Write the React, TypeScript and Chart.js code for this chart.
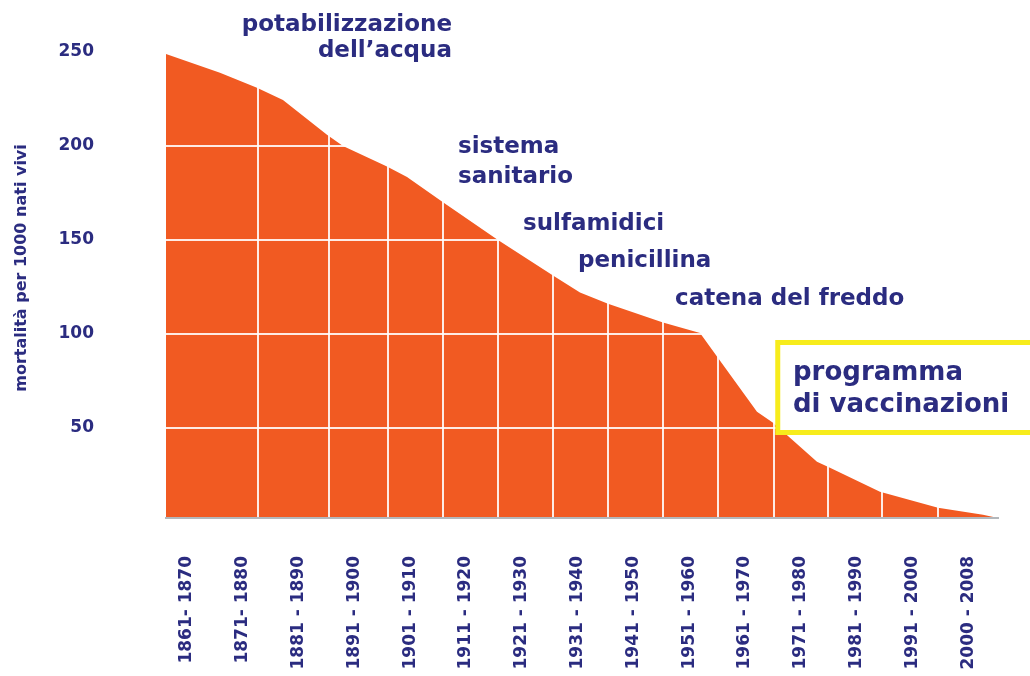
import React, { useEffect, useRef } from "react";
import { Chart, registerables } from "chart.js";

Chart.register(...registerables);

// Decade labels on the category axis
const xLabels = [
  "1861- 1870", "1871- 1880", "1881 - 1890", "1891 - 1900", "1901 - 1910",
  "1911 - 1920", "1921 - 1930", "1931 - 1940", "1941 - 1950", "1951 - 1960",
  "1961 - 1970", "1971 - 1980", "1981 - 1990", "1991 - 2000", "2000 - 2008",
];

// Curve vertices: position along the decade axis (decade index) and mortality per 1000 live births
const curveX = [
  -0.376, 0.591, 1.254, 1.72, 2.509, 2.796, 3.584, 3.943, 4.588, 5.573, 6.559, 7.043, 7.545,
  8.53, 9.194, 9.498, 10.215, 10.502, 10.806, 11.29, 11.523, 12.419, 13.459, 14.265, 14.534,
];
const mortality = [
  249, 239, 231, 224.5, 206, 200, 189, 183.5, 170, 150, 131, 122, 116,
  106, 100.5, 88, 58.5, 52.7, 44.7, 32, 28.7, 16, 7.4, 3.7, 2,
];

// Vertical grid positions (decade index) and y ticks
const gridX = [1.272, 2.545, 3.602, 4.588, 5.573, 6.559, 7.545, 8.53, 9.516, 10.52, 11.487, 12.455, 13.459];
const yTicks = [50, 100, 150, 200, 250];

const X_MIN = -0.376;
const X_MAX = 14.534;
const Y_MIN = 2;
const Y_MAX = 250;

const NAVY = "#2b2c80";
const ORANGE = "#f15a22";
const GRID = "rgba(255,255,255,0.88)";
const FONT = "'DejaVu Sans', Verdana, sans-serif";

const yTitle = "mortalità per 1000 nati vivi";

const notes = [
  { lines: ["potabilizzazione", "dell’acqua"], x: 4.749, y: 261.2, align: "right", size: 23, gap: 26 },
  { lines: ["sistema", "sanitario"], x: 4.857, y: 196.3, align: "left", size: 23, gap: 30 },
  { lines: ["sulfamidici"], x: 6.022, y: 155.3, align: "left", size: 23, gap: 0 },
  { lines: ["penicillina"], x: 7.007, y: 135.6, align: "left", size: 23, gap: 0 },
  { lines: ["catena del freddo"], x: 8.746, y: 115.4, align: "left", size: 23, gap: 0 },
  { lines: ["programma", "di vaccinazioni"], x: 10.86, y: 75.4, align: "left", size: 26, gap: 32 },
];

const annotationPlugin = {
  id: "annotations",
  afterDraw(chart: any) {
    const ctx = chart.ctx;
    const xs = chart.scales.x;
    const ys = chart.scales.y;
    ctx.save();
    // yellow highlight box (white filled) behind the vaccination note
    const bx = xs.getPixelForValue(10.587);
    const by1 = ys.getPixelForValue(95.4);
    const by2 = ys.getPixelForValue(47.5);
    ctx.fillStyle = "#ffffff";
    ctx.fillRect(bx, by1, chart.width - bx + 20, by2 - by1);
    ctx.strokeStyle = "#f7ec1c";
    ctx.lineWidth = 5;
    ctx.strokeRect(bx, by1, chart.width - bx + 20, by2 - by1);

    ctx.fillStyle = NAVY;
    ctx.textBaseline = "alphabetic";
    for (const n of notes) {
      ctx.font = `bold ${n.size}px ${FONT}`;
      ctx.textAlign = n.align;
      const px = xs.getPixelForValue(n.x);
      const py = ys.getPixelForValue(n.y);
      n.lines.forEach((t, i) => ctx.fillText(t, px, py + i * n.gap));
    }

    // y axis title
    ctx.font = `bold 16px ${FONT}`;
    ctx.textAlign = "center";
    ctx.translate(26, 268);
    ctx.rotate(-Math.PI / 2);
    ctx.fillText(yTitle, 0, 0);
    ctx.restore();
  },
};

export default function App() {
  const canvasRef = useRef<HTMLCanvasElement | null>(null);

  useEffect(() => {
    if (!canvasRef.current) return;
    const chart = new Chart(canvasRef.current, {
      type: "line",
      data: {
        datasets: [
          {
            data: curveX.map((x, i) => ({ x, y: mortality[i] })),
            backgroundColor: ORANGE,
            borderWidth: 0,
            borderColor: ORANGE,
            pointRadius: 0,
            fill: "start",
            tension: 0,
            xAxisID: "x",
            yAxisID: "y",
          },
        ],
      },
      options: {
        animation: false,
        responsive: true,
        maintainAspectRatio: false,
        layout: { padding: { top: 52, right: 32, left: 0, bottom: 0 } },
        plugins: { legend: { display: false }, tooltip: { enabled: false } },
        scales: {
          x: {
            type: "linear",
            position: "bottom",
            min: X_MIN,
            max: X_MAX,
            afterBuildTicks: (axis: any) => {
              axis.ticks = gridX.map((v) => ({ value: v }));
            },
            ticks: { display: false },
            grid: { color: GRID, lineWidth: 2, drawTicks: false, z: 1 },
            border: { display: true, color: "#b3b7bb", width: 2, z: 2 },
            afterFit: (axis: any) => {
              axis.height = 0;
            },
          },
          xl: {
            type: "linear",
            position: "bottom",
            min: X_MIN,
            max: X_MAX,
            afterBuildTicks: (axis: any) => {
              axis.ticks = xLabels.map((_, i) => ({ value: i }));
            },
            ticks: {
              autoSkip: false,
              minRotation: 90,
              maxRotation: 90,
              padding: 38,
              color: NAVY,
              font: { family: FONT, size: 17, weight: "bold" },
              callback: (_v: any, i: number) => xLabels[i],
            },
            grid: { display: false, drawTicks: false },
            border: { display: false },
            afterFit: (axis: any) => {
              axis.height = 158;
              axis.paddingLeft = 0;
              axis.paddingRight = 0;
            },
          },
          y: {
            type: "linear",
            min: Y_MIN,
            max: Y_MAX,
            afterBuildTicks: (axis: any) => {
              axis.ticks = yTicks.map((v) => ({ value: v }));
            },
            ticks: {
              padding: 72,
              color: NAVY,
              font: { family: FONT, size: 17, weight: "bold" },
            },
            grid: {
              color: (c: any) => (c.tick && c.tick.value === 250 ? "rgba(0,0,0,0)" : GRID),
              lineWidth: 2,
              drawTicks: false,
              z: 1,
            },
            border: { display: false },
            afterFit: (axis: any) => {
              axis.width = 166;
              axis.paddingTop = 0;
              axis.paddingBottom = 0;
            },
          },
        },
      },
      plugins: [annotationPlugin],
    } as any);
    return () => chart.destroy();
  }, []);

  return (
    <div style={{ position: "absolute", left: 0, top: 0, width: 1030, height: 676, background: "#ffffff" }}>
      <canvas ref={canvasRef} />
    </div>
  );
}
